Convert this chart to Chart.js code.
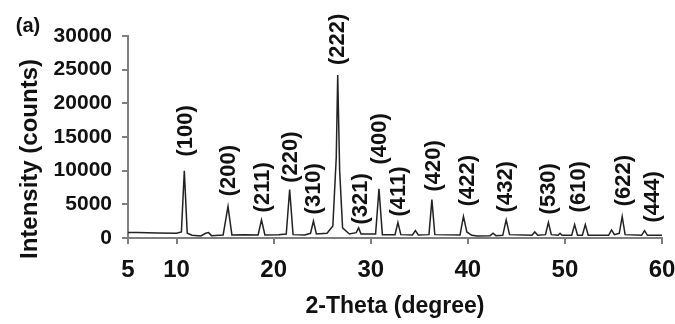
<!DOCTYPE html>
<html>
<head>
<meta charset="utf-8">
<script src="https://cdn.jsdelivr.net/npm/chart.js@4/dist/chart.umd.min.js"></script>
<style>
  html, body { margin: 0; padding: 0; background: #fff; }
  #wrap { width: 675px; height: 324px; position: relative; }
</style>
</head>
<body>
<div id="wrap"><canvas id="xrd"></canvas></div>
<script>
// XRD pattern (a)
const twoTheta = [
  5.0, 6.0, 8.0, 10.0, 10.5, 10.8, 11.1, 11.6, 12.5, 13.0, 13.3, 13.6,
  14.8, 15.3, 15.7, 17.0, 18.4, 18.75, 19.1, 20.5, 21.3, 21.65, 22.0,
  23.2, 23.8, 24.1, 24.4, 25.5, 26.1, 26.45, 26.6, 26.8, 27.1, 27.8,
  28.5, 28.75, 29.0, 30.5, 30.85, 31.2, 32.5, 32.8, 33.1, 34.3, 34.6, 34.9,
  36.0, 36.3, 36.6, 39.2, 39.55, 39.9, 40.4, 41.0, 42.3, 42.6, 42.9,
  43.6, 43.95, 44.3, 46.6, 46.9, 47.2, 48.0, 48.3, 48.6, 49.3, 49.5, 49.7,
  50.7, 51.0, 51.3, 51.8, 52.1, 52.4, 54.5, 54.8, 55.1, 55.6, 55.9, 56.2,
  57.9, 58.2, 58.5, 60.0
];
const counts = [
  800, 800, 750, 700, 900, 10000, 700, 400, 300, 700, 800, 350,
  450, 4700, 450, 500, 450, 2700, 450, 500, 600, 7200, 500,
  450, 700, 2500, 600, 700, 1800, 12000, 24200, 10000, 1500, 600,
  800, 1500, 600, 600, 7300, 500, 500, 2300, 500, 450, 1100, 450,
  500, 5700, 500, 450, 3200, 900, 400, 300, 350, 700, 350,
  400, 2700, 500, 400, 900, 400, 500, 2300, 500, 400, 700, 400,
  400, 2000, 400, 400, 2000, 400, 400, 1200, 500, 700, 3200, 500,
  400, 1100, 400, 400
];

// Miller index labels: where each one sits (2-theta) and the count level at its foot
const hkl     = ['(100)', '(200)', '(211)', '(220)', '(310)', '(222)', '(321)', '(400)',
                 '(411)', '(420)', '(422)', '(432)', '(530)', '(610)', '(622)', '(444)'];
const hklAt   = [10.87, 15.3, 18.8, 21.7, 24.05, 26.5, 28.9, 30.85,
                 32.8, 36.4, 39.9, 43.8, 48.25, 51.35, 55.95, 59.0];
const hklBase = [12100, 6200, 3800, 8200, 3500, 25700, 2000, 10900,
                 3200, 6900, 4700, 3800, 3500, 3800, 4700, 2300];

const xTicks = [5, 10, 20, 30, 40, 50, 60];
const yTicks = [0, 5000, 10000, 15000, 20000, 25000, 30000];

const AXIS = '#7f7f7f';
const INK  = '#111';
const FONT = '"Liberation Sans", Arial, sans-serif';

const hklLabels = {
  id: 'hklLabels',
  afterDatasetsDraw(chart) {
    const { ctx, scales: { x, y } } = chart;
    ctx.save();
    ctx.fillStyle = INK;
    ctx.font = 'bold 22px ' + FONT;
    ctx.textAlign = 'left';
    ctx.textBaseline = 'middle';
    hkl.forEach((t, i) => {
      ctx.save();
      ctx.translate(x.getPixelForValue(hklAt[i]), y.getPixelForValue(hklBase[i]));
      ctx.rotate(-Math.PI / 2);
      ctx.fillText(t, 0, 1);
      ctx.restore();
    });
    // y title and panel tag
    ctx.textAlign = 'center';
    ctx.font = 'bold 24px ' + FONT;
    ctx.save();
    ctx.translate(30, 159);
    ctx.rotate(-Math.PI / 2);
    ctx.fillText('Intensity (counts)', 0, 0);
    ctx.restore();
    ctx.font = 'bold 20px ' + FONT;
    ctx.fillText('(a)', 28, 26);
    ctx.restore();
  }
};

new Chart(document.getElementById('xrd'), {
  type: 'line',
  data: {
    datasets: [{
      data: twoTheta.map((t, i) => ({ x: t, y: counts[i] })),
      borderColor: '#222',
      borderWidth: 1.5,
      pointRadius: 0,
      tension: 0,
      fill: false,
    }],
  },
  options: {
    responsive: true,
    maintainAspectRatio: false,
    animation: false,
    layout: { padding: { top: 36, right: 13, left: 0, bottom: 0 } },
    plugins: { legend: { display: false }, tooltip: { enabled: false } },
    scales: {
      x: {
        type: 'linear',
        min: 5, max: 60,
        afterBuildTicks: (s) => { s.ticks = xTicks.map(v => ({ value: v })); },
        afterFit: (s) => { s.height = 86; s.paddingLeft = 0; s.paddingRight = 0; },
        border: { color: AXIS, width: 2 },
        grid: { drawOnChartArea: false, color: AXIS, lineWidth: 2, tickLength: 6 },
        ticks: { color: INK, font: { family: FONT, size: 24, weight: 'bold' }, padding: 12,
                 maxRotation: 0, autoSkip: false, callback: (v) => String(v) },
        title: { display: true, text: '2-Theta (degree)', color: INK, font: { family: FONT, size: 23, weight: 'bold' }, padding: { top: 4 } },
      },
      y: {
        min: 0, max: 30000,
        afterBuildTicks: (s) => { s.ticks = yTicks.map(v => ({ value: v })); },
        afterFit: (s) => { s.width = 128; s.paddingTop = 0; s.paddingBottom = 0; },
        border: { color: AXIS, width: 2 },
        grid: { drawOnChartArea: false, color: AXIS, lineWidth: 2, tickLength: 6 },
        ticks: { color: INK, font: { family: FONT, size: 21, weight: 'bold' }, padding: 10,
                 callback: (v) => String(v) },
      },
    },
  },
  plugins: [hklLabels],
});
</script>
</body>
</html>
